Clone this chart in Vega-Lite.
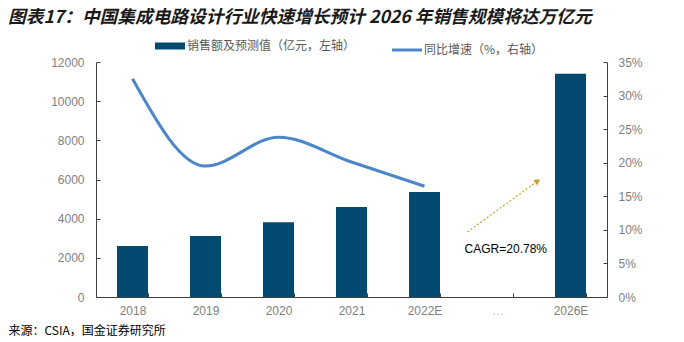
{
  "$schema": "https://vega.github.io/schema/vega-lite/v6.json",
  "width": 511,
  "height": 235,
  "autosize": {"type": "none"},
  "padding": {"left": 96, "top": 62, "right": 77, "bottom": 45},
  "background": "white",
  "title": {
    "text": "图表17：中国集成电路设计行业快速增长预计 2026 年销售规模将达万亿元",
    "anchor": "start",
    "frame": "group",
    "dx": -88,
    "offset": 13,
    "font": "Noto Sans CJK SC",
    "fontSize": 17.7,
    "fontStyle": "italic",
    "fontWeight": "bold",
    "color": "#1a1a1a"
  },
  "datasets": {
    "sales": [
      {"year": "2018", "sales": 2600},
      {"year": "2019", "sales": 3110},
      {"year": "2020", "sales": 3820},
      {"year": "2021", "sales": 4590},
      {"year": "2022E", "sales": 5360},
      {"year": "2026E", "sales": 11400}
    ],
    "growth": [
      {"year": "2018", "growth": 0.325},
      {"year": "2019", "growth": 0.195},
      {"year": "2020", "growth": 0.238},
      {"year": "2021", "growth": 0.201},
      {"year": "2022E", "growth": 0.165}
    ],
    "note": [
      {"year": "…", "to": "2026E", "sales": 3320, "y2": 5920, "label": "CAGR=20.78%", "ly": 2450}
    ]
  },
  "encoding": {
    "x": {
      "field": "year",
      "type": "nominal",
      "sort": null,
      "scale": {"domain": ["2018", "2019", "2020", "2021", "2022E", "…", "2026E"], "paddingInner": 0.575, "paddingOuter": 0.2875},
      "axis": {
        "title": "来源：CSIA，国金证券研究所",
        "titleX": -88,
        "titleY": 33,
        "titleAlign": "left",
        "titleBaseline": "middle",
        "titleFont": "Noto Sans CJK SC",
        "titleFontSize": 12,
        "titleFontWeight": "normal",
        "titleColor": "#000000",
        "labelAngle": 0,
        "labelFont": "Liberation Sans",
        "labelFontSize": 12,
        "labelColor": {"condition": {"test": "datum.value === '…'", "value": "#c0c0c0"}, "value": "#7f7f7f"},
        "labelPadding": 12,
        "tickBand": "extent",
        "tickSize": -4,
        "tickColor": "#404040",
        "domainColor": "#404040"
      }
    }
  },
  "layer": [
    {
      "encoding": {
        "y": {
          "field": "sales",
          "type": "quantitative",
          "scale": {"domain": [0, 12000], "nice": false},
          "axis": {
            "title": null,
            "values": [0, 2000, 4000, 6000, 8000, 10000, 12000],
            "format": "d",
            "labelOverlap": false,
            "labelFont": "Liberation Sans",
            "labelFontSize": 12,
            "labelColor": "#7f7f7f",
            "labelPadding": 16,
            "tickSize": -4,
            "tickColor": "#404040",
            "domainColor": "#404040"
          }
        }
      },
      "layer": [
        {
          "data": {"name": "sales"},
          "mark": {"type": "bar"},
          "encoding": {
            "color": {
              "datum": "销售额及预测值（亿元，左轴）",
              "type": "nominal",
              "scale": {"domain": ["销售额及预测值（亿元，左轴）", "同比增速（%，右轴）"], "range": ["#024a70", "#4a86c8"]},
              "legend": {
                "title": null,
                "orient": "none",
                "legendX": 68,
                "legendY": -22,
                "direction": "horizontal",
                "symbolType": "stroke",
                "symbolSize": 900,
                "labelFont": "Noto Sans CJK SC",
                "labelFontSize": 12,
                "labelColor": "#595959",
                "labelLimit": 400,
                "labelOffset": 11,
                "columnPadding": 30,
                "encode": {
                  "symbols": {
                    "update": {
                      "stroke": {"scale": "color", "field": "value"},
                      "strokeWidth": {"signal": "datum.value === '销售额及预测值（亿元，左轴）' ? 7 : 3"}
                    }
                  }
                }
              }
            }
          }
        },
        {
          "data": {"name": "note"},
          "mark": {"type": "rule", "strokeDash": [2, 2], "strokeWidth": 1.2, "color": "#c9a030"},
          "encoding": {
            "x": {"field": "year", "type": "nominal", "bandPosition": -0.47},
            "x2": {"field": "to", "bandPosition": -0.56},
            "y2": {"field": "y2"}
          }
        },
        {
          "data": {"name": "note"},
          "mark": {"type": "point", "shape": "triangle-up", "filled": true, "size": 45, "angle": 54, "color": "#c9a030", "opacity": 1},
          "encoding": {
            "x": {"field": "to", "type": "nominal", "bandPosition": -0.56},
            "y": {"field": "y2", "type": "quantitative"}
          }
        },
        {
          "data": {"name": "note"},
          "mark": {"type": "text", "align": "left", "baseline": "middle", "font": "Liberation Sans", "fontSize": 12, "color": "#000000"},
          "encoding": {
            "x": {"field": "year", "type": "nominal", "bandPosition": -0.56},
            "y": {"field": "ly", "type": "quantitative"},
            "text": {"field": "label"}
          }
        }
      ]
    },
    {
      "data": {"name": "growth"},
      "mark": {"type": "line", "interpolate": "monotone", "strokeWidth": 3},
      "encoding": {
        "y": {
          "field": "growth",
          "type": "quantitative",
          "scale": {"domain": [0, 0.35], "nice": false},
          "axis": {
            "orient": "right",
            "title": null,
            "values": [0, 0.05, 0.1, 0.15, 0.2, 0.25, 0.3, 0.35],
            "format": ".0%",
            "labelOverlap": false,
            "labelFont": "Liberation Sans",
            "labelFontSize": 12,
            "labelColor": "#7f7f7f",
            "labelPadding": 15,
            "tickSize": -4,
            "tickColor": "#404040",
            "domainColor": "#404040"
          }
        },
        "color": {"datum": "同比增速（%，右轴）", "type": "nominal"}
      }
    }
  ],
  "resolve": {"scale": {"y": "independent"}},
  "config": {
    "view": {"stroke": null},
    "axis": {"grid": false}
  }
}
